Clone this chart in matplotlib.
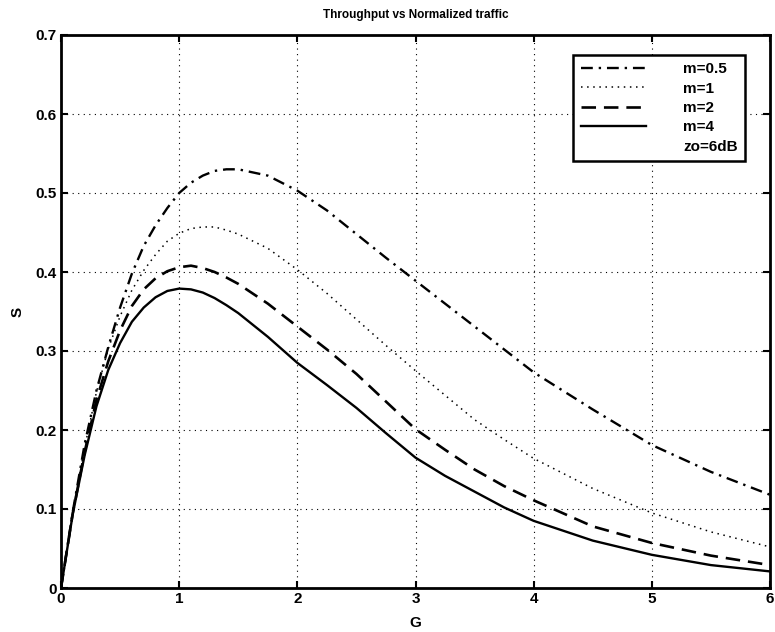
import numpy as np
import matplotlib
matplotlib.use('Agg')
import matplotlib.pyplot as plt
from matplotlib.lines import Line2D

# Normalized traffic G (shared by every curve)
G = [0, 0.1, 0.2, 0.3, 0.4, 0.5, 0.6, 0.7, 0.8, 0.9, 1.0, 1.1, 1.2, 1.3, 1.4,
     1.5, 1.75, 2.0, 2.25, 2.5, 2.75, 3.0, 3.25, 3.5, 3.75, 4.0, 4.5, 5.0,
     5.5, 6.0]

# Throughput S
S_m05 = [0, 0.097, 0.182, 0.250, 0.305, 0.355, 0.398, 0.433, 0.459, 0.481,
         0.500, 0.513, 0.522, 0.528, 0.530, 0.530, 0.522, 0.503, 0.478, 0.448,
         0.418, 0.389, 0.360, 0.331, 0.302, 0.273, 0.226, 0.181, 0.147, 0.118]
S_m1 = [0, 0.096, 0.178, 0.248, 0.303, 0.344, 0.377, 0.402, 0.422, 0.439,
        0.449, 0.455, 0.457, 0.457, 0.453, 0.448, 0.430, 0.403, 0.373, 0.340,
        0.307, 0.275, 0.244, 0.213, 0.188, 0.164, 0.126, 0.095, 0.071, 0.052]
S_m2 = [0, 0.095, 0.172, 0.238, 0.287, 0.326, 0.357, 0.378, 0.392, 0.401,
        0.406, 0.408, 0.405, 0.400, 0.393, 0.385, 0.360, 0.331, 0.302, 0.271,
        0.236, 0.201, 0.175, 0.150, 0.129, 0.111, 0.078, 0.057, 0.041, 0.029]
S_m4 = [0, 0.094, 0.168, 0.230, 0.276, 0.310, 0.337, 0.355, 0.368, 0.376,
        0.379, 0.378, 0.374, 0.367, 0.358, 0.348, 0.318, 0.285, 0.257, 0.228,
        0.196, 0.165, 0.142, 0.122, 0.102, 0.085, 0.060, 0.042, 0.029, 0.021]

labels = ['m=0.5', 'm=1', 'm=2', 'm=4']
extra_label = 'zo=6dB'
xticks = [0, 1, 2, 3, 4, 5, 6]
yticks = [0, 0.1, 0.2, 0.3, 0.4, 0.5, 0.6, 0.7]

# line styles in the matlab flavour
styles = [
    {'ls': (0, (5, 2.5, 1, 2.5)), 'lw': 1.7},
    {'ls': (0, (1, 3)), 'lw': 1.1},
    {'ls': (0, (5.5, 3)), 'lw': 1.9},
    {'ls': '-', 'lw': 1.7},
]

def main():
    plt.rcParams['font.family'] = ['Liberation Sans', 'DejaVu Sans']
    plt.rcParams['font.weight'] = 'bold'

    fig = plt.figure(figsize=(7.75, 6.32), dpi=100)
    ax = fig.add_axes([61 / 775, 1 - 588 / 632, 709 / 775, 553 / 632])

    handles = []
    for S, label, st in zip([S_m05, S_m1, S_m2, S_m4], labels, styles):
        line, = ax.plot(G, S, color='black', linestyle=st['ls'],
                        linewidth=st['lw'], label=label)
        handles.append(line)

    # dummy entry for the zo note
    handles.append(Line2D([], [], color='none'))

    ax.set_xlim(0, 6)
    ax.set_ylim(0, 0.7)
    ax.set_xticks(xticks)
    ax.set_yticks(yticks)
    ax.set_xticklabels(['{}'.format(t) for t in xticks])
    ax.set_yticklabels(['0'] + ['{:.1f}'.format(t) for t in yticks[1:]])
    ax.tick_params(direction='in', length=5, width=1.5, top=True, right=True,
                   labelsize=11, pad=3)
    ax.grid(True, color='black', linestyle=(0, (1, 4)), linewidth=0.8)
    for spine in ax.spines.values():
        spine.set_linewidth(2)

    ax.set_title('Throughput vs Normalized traffic', fontsize=8.5,
                 fontweight='bold', pad=12)
    ax.set_xlabel('G', fontsize=11, fontweight='bold', labelpad=7)
    ax.set_ylabel('S', fontsize=11, fontweight='bold', labelpad=8)

    leg = fig.legend(handles, labels + [extra_label], loc='upper right',
                     bbox_to_anchor=(753 / 775, 1 - 47 / 632),
                     fontsize=11, handlelength=4.3, handletextpad=2.4,
                     labelspacing=0.35, borderpad=0.5, fancybox=False,
                     framealpha=1, edgecolor='black')
    leg.get_frame().set_linewidth(1.8)

    fig.savefig('out.png', dpi=100)

if __name__ == '__main__':
    main()
